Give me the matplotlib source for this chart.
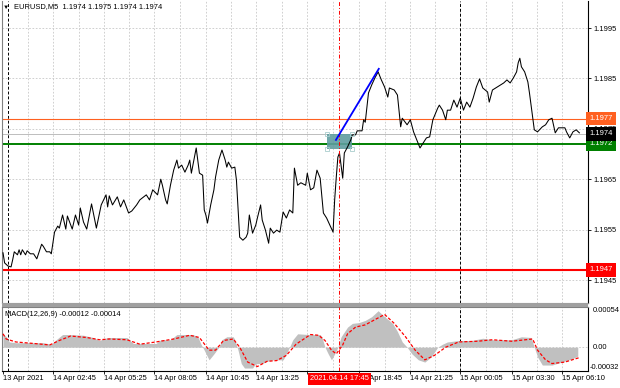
"""
EURUSD M5 chart with MACD sub-window, drawn in the MetaTrader look.
"""

import matplotlib
matplotlib.use("Agg")
import matplotlib.pyplot as plt
import matplotlib.transforms as mtransforms
from matplotlib.patches import Rectangle

plt.rcParams['font.family'] = ['Liberation Sans', 'DejaVu Sans']

# ---------------------------------------------------------------- data
# bar index (5 minute bars counted from the left edge) and close prices
price_bars = [
    0, 1, 3, 5, 6, 7, 9, 10, 11, 12, 14, 15, 17, 19, 21, 24, 25, 27, 29, 30,
    32, 34, 35, 37, 39, 40, 43, 45, 47, 48, 50, 52, 55, 58, 61, 64, 65, 66, 68, 71,
    73, 75, 78, 80, 83, 85, 89, 91, 93, 96, 98, 99, 101, 102, 104, 106, 108, 109, 111, 113,
    115, 116, 117, 120, 122, 124, 125, 126, 127, 129, 131, 132, 134, 136, 138, 139, 140, 142, 144, 145,
    147, 149, 151, 152, 153, 155, 157, 158, 160, 161, 163, 165, 166, 168, 170, 172, 174, 176, 178, 180,
    181, 183, 185, 188, 189, 191, 193, 195, 197, 199, 201, 203, 205, 206, 207, 208, 209, 211, 212, 214,
    216, 217, 219, 220, 223, 224, 225, 227, 229, 231, 233, 235, 237, 239, 240, 243, 245, 247, 248, 251,
    253, 255, 257, 259, 261, 263, 265, 267, 270, 271, 273, 275, 276, 278, 280, 282, 284, 286, 288, 290,
    292, 294, 296, 298, 301, 302, 304, 307, 309, 311, 313, 315, 317, 319, 320, 321, 322, 324, 326, 327,
    329, 330, 332, 335, 337, 339, 341, 343, 345, 347, 349, 350, 352, 354, 356, 358,
]
price_close = [
    1.19504, 1.19484, 1.19478, 1.19476, 1.19490, 1.19506, 1.19500, 1.19510, 1.19500, 1.19510,
    1.19500, 1.19508, 1.19502, 1.19502, 1.19492, 1.19521, 1.19517, 1.19506, 1.19506, 1.19502,
    1.19545, 1.19557, 1.19553, 1.19579, 1.19551, 1.19577, 1.19551, 1.19579, 1.19559, 1.19593,
    1.19565, 1.19551, 1.19601, 1.19553, 1.19599, 1.19619, 1.19595, 1.19617, 1.19599, 1.19615,
    1.19595, 1.19609, 1.19583, 1.19587, 1.19599, 1.19609, 1.19619, 1.19609, 1.19629, 1.19619,
    1.19650, 1.19638, 1.19609, 1.19601, 1.19638, 1.19668, 1.19688, 1.19672, 1.19678, 1.19664,
    1.19678, 1.19688, 1.19662, 1.19712, 1.19662, 1.19658, 1.19589, 1.19579, 1.19563, 1.19599,
    1.19629, 1.19654, 1.19688, 1.19708, 1.19688, 1.19674, 1.19684, 1.19672, 1.19674, 1.19648,
    1.19535, 1.19529, 1.19535, 1.19543, 1.19579, 1.19543, 1.19559, 1.19573, 1.19599, 1.19569,
    1.19549, 1.19523, 1.19553, 1.19543, 1.19549, 1.19545, 1.19585, 1.19573, 1.19589, 1.19583,
    1.19672, 1.19638, 1.19643, 1.19638, 1.19662, 1.19629, 1.19633, 1.19668, 1.19652, 1.19583,
    1.19573, 1.19559, 1.19545, 1.19609, 1.19654, 1.19694, 1.19702, 1.19652, 1.19702, 1.19714,
    1.19728, 1.19738, 1.19738, 1.19746, 1.19746, 1.19768, 1.19763, 1.19821, 1.19837, 1.19851,
    1.19863, 1.19847, 1.19833, 1.19813, 1.19831, 1.19827, 1.19817, 1.19754, 1.19771, 1.19758,
    1.19768, 1.19744, 1.19728, 1.19712, 1.19722, 1.19732, 1.19734, 1.19768, 1.19791, 1.19797,
    1.19787, 1.19768, 1.19787, 1.19787, 1.19807, 1.19793, 1.19811, 1.19787, 1.19803, 1.19793,
    1.19811, 1.19833, 1.19849, 1.19831, 1.19823, 1.19803, 1.19827, 1.19833, 1.19837, 1.19841,
    1.19847, 1.19841, 1.19851, 1.19863, 1.19881, 1.19890, 1.19873, 1.19863, 1.19843, 1.19821,
    1.19773, 1.19748, 1.19744, 1.19754, 1.19758, 1.19768, 1.19771, 1.19742, 1.19752, 1.19752,
    1.19752, 1.19744, 1.19732, 1.19744, 1.19748, 1.19742,
]

# MACD(12,26,9) main histogram and signal line, in units of 1e-5
hist_bars = [0, 2, 4, 8, 15, 25, 30, 33, 37, 41, 50, 56, 60, 62, 65, 77, 79, 81, 95, 98,
             104, 108, 118, 121, 123, 125, 128, 131, 134, 136, 139, 143, 144, 146, 148, 150,
             155, 157, 161, 164, 168, 174, 176, 178, 180, 183, 190, 197, 198, 200, 202, 204,
             206, 208, 210, 214, 217, 221, 225, 229, 233, 237, 242, 245, 248, 251, 254, 258,
             262, 266, 270, 273, 276, 283, 291, 298, 304, 316, 322, 328, 330, 332, 335, 341,
             347, 353, 357]
hist_vals = [18, 14, 7, 6, 6, 6, 4, 10, 17, 17, 16, 13, 9, 11, 13, 13, 9, 5, 5, 10,
             10, 17, 17, 14, 4, -4, -17, -9, 0, 10, 14, 14, 10, -4, -22, -28,
             -28, -22, -22, -19, -17, -17, -9, 0, 10, 18, 17, 17, 14, 0, -9, -17,
             -9, 0, 14, 27, 32, 33, 36, 41, 49, 41, 32, 21, 7, 0, -9, -17,
             -20, -13, 0, 4, 7, 9, 9, 12, 10, 10, 14, 13, 0, -13, -24, -24,
             -20, -16, -12]
signal_bars = [0, 2, 8, 19, 29, 35, 42, 52, 60, 66, 77, 85, 95, 106, 116, 122, 128, 132,
               137, 143, 147, 152, 158, 164, 170, 176, 182, 191, 196, 200, 204, 207, 211,
               214, 219, 225, 231, 237, 243, 250, 256, 262, 268, 275, 283, 295, 304, 316,
               329, 332, 337, 341, 349, 355, 358]
signal_vals = [18, 11, 7, 5, 3, 9, 15, 13, 10, 11, 10, 4, 7, 11, 16, 13, -4, -4,
               9, 11, 0, -20, -26, -19, -18, -11, 4, 17, 16, 9, -4, -9, 3,
               18, 27, 30, 37, 44, 32, 14, -4, -17, -11, 0, 7, 8, 10, 8,
               11, -4, -17, -22, -20, -16, -14]

tick_bars = [0, 31, 63, 94, 126, 157, 189, 221, 253, 284, 316, 347]
tick_labels = ['13 Apr 2021', '14 Apr 02:45', '14 Apr 05:25', '14 Apr 08:05',
               '14 Apr 10:45', '14 Apr 13:25', '', '14 Apr 18:45',
               '14 Apr 21:25', '15 Apr 00:05', '15 Apr 03:30', '15 Apr 06:10']
price_ticks = [1.1945, 1.1955, 1.1965, 1.1975, 1.1985, 1.1995]

day_breaks = [3, 284]
cursor_bar = 209
cursor_label = '2021.04.14 17:45'

bid = 1.1974
resistance = 1.1977
entry = 1.1972
support = 1.1947

trend_bars = [206.8, 233.4]
trend_prices = [1.19728, 1.19869]
zone_bars = [201, 217]
zone_prices = [1.19710, 1.19740]

header = 'EURUSD,M5  1.1974 1.1975 1.1974 1.1974'
macd_header = 'MACD(12,26,9) -0.00012 -0.00014'

# ---------------------------------------------------------------- layout
W, H = 620, 388
FS = 5.4
GRID = '#c8c8c8'


def box(x0, y0, x1, y1):
    # pixel box (top-left origin) -> figure fraction rect
    return [x0 / W, 1 - y1 / H, (x1 - x0) / W, (y1 - y0) / H]


fig = plt.figure(figsize=(6.2, 3.88), dpi=100)
ax = fig.add_axes(box(2, 1, 588, 303))
axm = fig.add_axes(box(2, 307, 588, 371))

xlim = (-0.62, 363.35)
mids = [(a + b) / 2 for a, b in zip(tick_bars[:-1], tick_bars[1:])]

for a in (ax, axm):
    a.set_xlim(*xlim)
    for b in tick_bars[1:] + mids:
        a.axvline(b, color=GRID, lw=0.6, ls=(0, (2, 2)), zorder=0)
    for b in day_breaks:
        a.axvline(b, color='black', lw=0.7, ls=(0, (3, 2)), zorder=1)
    a.axvline(cursor_bar, color='#ff0000', lw=0.7, ls=(0, (4, 2, 1, 2)), zorder=4)
    a.spines['left'].set_color('#808080')
    a.spines['right'].set_color('black')
    for s in a.spines.values():
        s.set_linewidth(0.8)

# ---------------------------------------------------------------- main panel
ax.set_ylim(1.194044, 1.200036)
for p in price_ticks:
    ax.axhline(p, color=GRID, lw=0.6, ls=(0, (2, 2)), zorder=0)

ax.axhline(bid, color='#bdbdbd', lw=0.7, zorder=1)
ax.axhline(resistance, color='#ff6020', lw=0.8, zorder=2)
ax.axhline(entry, color='#008000', lw=1.4, zorder=2)
ax.axhline(support, color='#ff0000', lw=1.5, zorder=2)

ax.add_patch(Rectangle((zone_bars[0], zone_prices[0]), zone_bars[1] - zone_bars[0],
                       zone_prices[1] - zone_prices[0], facecolor='#5f9ea0',
                       edgecolor='none', alpha=0.9, zorder=3))
ax.plot([zone_bars[0], zone_bars[1], zone_bars[0], zone_bars[1]],
        [zone_prices[0], zone_prices[0], zone_prices[1], zone_prices[1]],
        ls='none', marker='s', ms=2.2, mfc='none', mec='#a8cccc', mew=0.6, zorder=4)

ax.plot(price_bars, price_close, color='black', lw=0.75, zorder=3)
ax.plot(trend_bars, trend_prices, color='#0000ff', lw=1.3, zorder=4)

ax.set_xticks([])
ax.yaxis.tick_right()
ax.set_yticks(price_ticks)
ax.set_yticklabels([f'{p:.4f}' for p in price_ticks])
ax.tick_params(axis='y', labelsize=FS, length=2, pad=2, width=0.6)
ax.spines['top'].set_visible(False)
ax.spines['bottom'].set_color('#808080')

# price tags on the right scale
tag = mtransforms.blended_transform_factory(ax.transAxes, ax.transData)
for price, color in [(resistance, '#ff6020'), (entry, '#008000'),
                     (support, '#ff0000'), (bid, 'black')]:
    ax.text(1.0 + 1.5 / 586, price, f'{price:.4f}', transform=tag, ha='left',
            va='center', color='white', fontsize=FS, clip_on=False, zorder=6,
            bbox=dict(boxstyle='square,pad=0.42', fc=color, ec='none'))

# ---------------------------------------------------------------- MACD panel
axm.set_ylim(-0.00032, 0.00054)
axm.axhline(0, color=GRID, lw=0.6, ls=(0, (2, 2)), zorder=0)
axm.fill_between(hist_bars, 0, [v * 1e-5 for v in hist_vals], color='#c0c0c0',
                 lw=0, zorder=2)
axm.plot(signal_bars, [v * 1e-5 for v in signal_vals], color='#ff0000', lw=0.9,
         ls=(0, (2.5, 1.5)), zorder=3)
axm.spines['top'].set_color('#808080')
axm.set_yticks([])
axm.set_xticks(tick_bars)
axm.set_xticklabels(tick_labels, ha='left')
axm.tick_params(axis='x', labelsize=FS, length=2, pad=1, width=0.6)

side = mtransforms.blended_transform_factory(axm.transAxes, axm.transData)
axm.text(1.0 + 5 / 586, 0.00054, '0.00054', transform=side, va='top', fontsize=FS,
         clip_on=False)
axm.text(1.0 + 5 / 586, 0.0, '0.00', transform=side, va='center', fontsize=FS,
         clip_on=False)
axm.text(1.0 + 2 / 586, -0.00032, '-0.00032', transform=side, va='bottom',
         fontsize=FS, clip_on=False)

stamp = mtransforms.blended_transform_factory(axm.transData, axm.transAxes)
axm.text(cursor_bar, -0.125, cursor_label, transform=stamp, ha='center', va='center',
         color='white', fontsize=FS, clip_on=False, zorder=6,
         bbox=dict(boxstyle='square,pad=0.3', fc='#ff0000', ec='none'))

# separator between the two windows
fig.patches.append(Rectangle((2 / W, 1 - 306.5 / H), 586 / W, 3.5 / H,
                             transform=fig.transFigure, facecolor='#a0a0a0',
                             edgecolor='none'))

fig.text(3 / W, 1 - 7 / H, '▼', fontsize=4.5, va='center', ha='left')
fig.text(14 / W, 1 - 7 / H, header, fontsize=FS, va='center', ha='left')
fig.text(5 / W, 1 - 314 / H, macd_header, fontsize=FS, va='center', ha='left')

fig.savefig('out.png', dpi=100)
